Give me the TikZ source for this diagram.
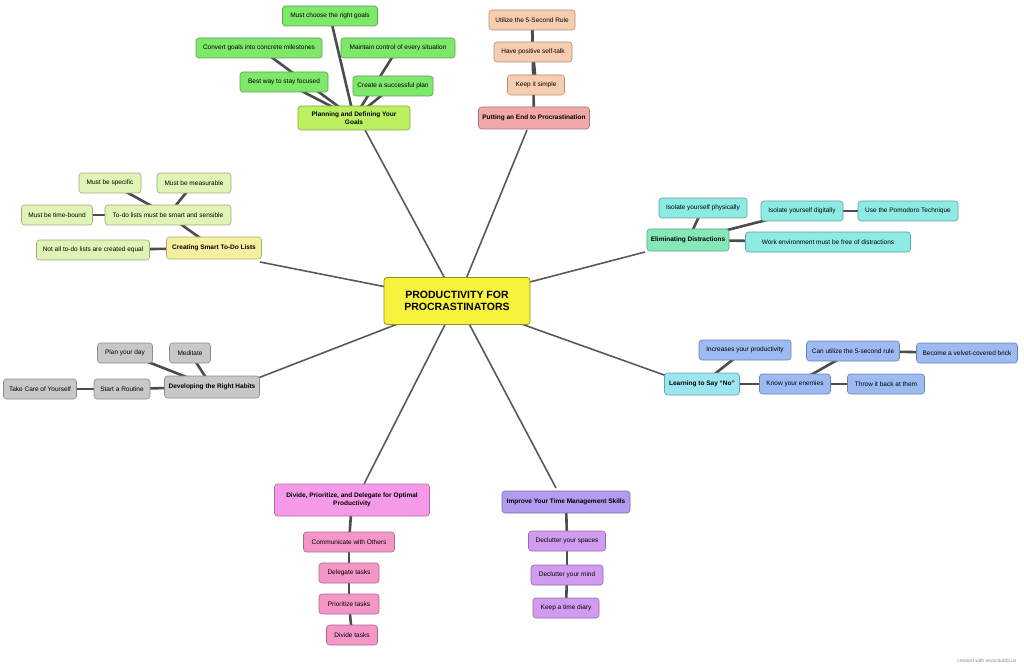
\documentclass[tikz,border=0pt]{standalone}
\usepackage{fontspec}
\setmainfont{Liberation Sans}
\usetikzlibrary{backgrounds}
\begin{document}
\begin{tikzpicture}[x=1pt,y=-1pt,
 bx/.style={draw=#1!70!black, fill=#1, rounded corners=3pt, minimum height=20pt, inner sep=2pt, font=\fontsize{6.5}{7.5}\selectfont, align=center, line width=0.6pt},
 hd/.style={bx=#1, font=\fontsize{6.5}{7.5}\selectfont\bfseries, minimum height=22pt},
 mainln/.style={draw=black!65, line width=1.6pt},
 subln/.style={draw=black!70, line width=2.6pt}]
\definecolor{lime}{HTML}{BDF060}
\definecolor{grn}{HTML}{7EE86A}
\definecolor{peach}{HTML}{F7CDB0}
\definecolor{rosec}{HTML}{F2A7A9}
\definecolor{ylw}{HTML}{F5F0A0}
\definecolor{pgrn}{HTML}{E0F5B5}
\definecolor{mint}{HTML}{86E8B6}
\definecolor{aqua}{HTML}{8EEBE3}
\definecolor{cyanl}{HTML}{9CE6F2}
\definecolor{blu}{HTML}{9EBAF2}
\definecolor{gry}{HTML}{C8C8C8}
\definecolor{mag}{HTML}{F59AE8}
\definecolor{pnk}{HTML}{F497C8}
\definecolor{purp}{HTML}{B19CF0}
\definecolor{lpurp}{HTML}{D19CF0}
\definecolor{cyel}{HTML}{F7F23C}
\useasboundingbox (0,0) rectangle (1024,668);
% center
\node[draw=cyel!60!black, fill=cyel, rounded corners=3pt, minimum width=146pt, minimum height=47pt, align=center, font=\fontsize{10.5}{12}\selectfont\bfseries, line width=0.8pt] (c) at (457,301) {PRODUCTIVITY FOR\\PROCRASTINATORS};
% planning
\node[hd=lime, minimum width=112pt, minimum height=24pt] (p) at (354,118) {Planning and Defining Your\\Goals};
\node[bx=grn, minimum width=95pt] (p1) at (330,16) {Must choose the right goals};
\node[bx=grn, minimum width=126pt] (p2) at (259,48) {Convert goals into concrete milestones};
\node[bx=grn, minimum width=114pt] (p3) at (398,48) {Maintain control of every situation};
\node[bx=grn, minimum width=88pt] (p4) at (284,82) {Best way to stay focused};
\node[bx=grn, minimum width=80pt] (p5) at (393,86) {Create a successful plan};
% end
\node[hd=rosec, minimum width=111pt] (e) at (534,118) {Putting an End to Procrastination};
\node[bx=peach, minimum width=86pt] (e1) at (532,20) {Utilize the 5-Second Rule};
\node[bx=peach, minimum width=78pt] (e2) at (533,52) {Have positive self-talk};
\node[bx=peach, minimum width=57pt] (e3) at (536,85) {Keep it simple};
% smart
\node[hd=ylw, minimum width=95pt] (s) at (214,248) {Creating Smart To-Do Lists};
\node[bx=pgrn, minimum width=62pt] (s1) at (110,183) {Must be specific};
\node[bx=pgrn, minimum width=74pt] (s2) at (194,183) {Must be measurable};
\node[bx=pgrn, minimum width=71pt] (s3) at (57,215) {Must be time-bound};
\node[bx=pgrn, minimum width=126pt] (s4) at (168,215) {To-do lists must be smart and sensible};
\node[bx=pgrn, minimum width=113pt] (s5) at (93,250) {Not all to-do lists are created equal};
% distractions
\node[hd=mint, minimum width=82pt] (d) at (688,240) {Eliminating Distractions};
\node[bx=aqua, minimum width=88pt] (d1) at (703,208) {Isolate yourself physically};
\node[bx=aqua, minimum width=82pt] (d2) at (802,211) {Isolate yourself digitally};
\node[bx=aqua, minimum width=100pt] (d3) at (908,211) {Use the Pomodoro Technique};
\node[bx=aqua, minimum width=165pt] (d4) at (828,242) {Work environment must be free of distractions};
% no
\node[hd=cyanl, minimum width=75pt] (n) at (702,384) {Learning to Say ``No''};
\node[bx=blu, minimum width=92pt] (n1) at (745,350) {Increases your productivity};
\node[bx=blu, minimum width=93pt] (n2) at (853,351) {Can utilize the 5-second rule};
\node[bx=blu, minimum width=101pt] (n3) at (967,353) {Become a velvet-covered brick};
\node[bx=blu, minimum width=71pt] (n4) at (795,384) {Know your enemies};
\node[bx=blu, minimum width=77pt] (n5) at (886,384) {Throw it back at them};
% habits
\node[hd=gry, minimum width=95pt] (h) at (212,387) {Developing the Right Habits};
\node[bx=gry, minimum width=55pt] (h1) at (125,353) {Plan your day};
\node[bx=gry, minimum width=41pt] (h2) at (190,353) {Meditate};
\node[bx=gry, minimum width=56pt] (h3) at (122,389) {Start a Routine};
\node[bx=gry, minimum width=73pt] (h4) at (40,389) {Take Care of Yourself};
% divide
\node[hd=mag, minimum width=155pt, minimum height=32pt] (v) at (352,500) {Divide, Prioritize, and Delegate for Optimal\\Productivity};
\node[bx=pnk, minimum width=91pt] (v1) at (349,542) {Communicate with Others};
\node[bx=pnk, minimum width=60pt] (v2) at (349,573) {Delegate tasks};
\node[bx=pnk, minimum width=60pt] (v3) at (349,604) {Prioritize tasks};
\node[bx=pnk, minimum width=51pt] (v4) at (352,635) {Divide tasks};
% improve
\node[hd=purp, minimum width=128pt] (t) at (566,502) {Improve Your Time Management Skills};
\node[bx=lpurp, minimum width=77pt] (t1) at (567,541) {Declutter your spaces};
\node[bx=lpurp, minimum width=72pt] (t2) at (567,575) {Declutter your mind};
\node[bx=lpurp, minimum width=66pt] (t3) at (566,608) {Keep a time diary};
\node[font=\fontsize{5}{6}\selectfont, text=black!45, anchor=east] (cr) at (1020,661) {created with www.bubbl.us};
\begin{scope}[on background layer]
\foreach \e in {{365,130}, {527,130}, {260,262}, {645,252}, {667,376}, {258,378}, {364,484}, {556,488}}
  \draw[mainln] (c.center) -- (\e);
\foreach \a/\b in {p/p1,p/p2,p/p3,p/p4,p/p5, e/e1,e1/e2,e2/e3, s/s4,s4/s1,s4/s2,s4/s3,s/s5, d/d1,d/d2,d2/d3,d/d4, n/n1,n/n4,n4/n2,n2/n3,n4/n5, h/h1,h/h2,h/h3,h3/h4, v/v1,v1/v2,v2/v3,v3/v4, t/t1,t1/t2,t2/t3}
  \draw[subln] (\a.center) -- (\b.center);
\end{scope}
\end{tikzpicture}
\end{document}
